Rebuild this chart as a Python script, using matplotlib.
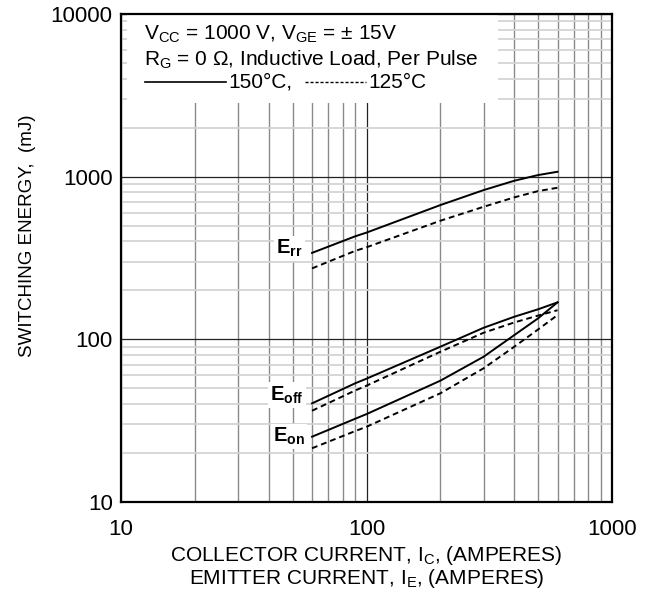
import matplotlib
matplotlib.use("Agg")
import matplotlib.pyplot as plt
from matplotlib.patches import Rectangle
from matplotlib.ticker import FixedLocator, LogLocator, NullFormatter

plt.rcParams["font.family"] = ["Liberation Sans", "DejaVu Sans"]
plt.rcParams["mathtext.fontset"] = "custom"
plt.rcParams["mathtext.rm"] = "Liberation Sans"
plt.rcParams["mathtext.it"] = "Liberation Sans"
plt.rcParams["mathtext.bf"] = "Liberation Sans:bold"

# collector current (A)
current = [60, 90, 100, 200, 300, 400, 500, 600]

# switching energy (mJ), 150 °C solid / 125 °C dashed
err_150 = [340, 430, 453, 669, 827, 944, 1023, 1072]
err_125 = [273, 350, 368, 536, 653, 746, 815, 855]
eoff_150 = [40.4, 53.7, 57.3, 90.1, 117.8, 137.7, 153, 168.8]
eoff_125 = [36.4, 48.5, 51.9, 83.9, 109.8, 127.0, 140, 151]
eon_150 = [25.2, 32.5, 34.7, 55.7, 78.2, 106.2, 134.6, 168.8]
eon_125 = [21.4, 27.3, 29.0, 46.6, 66.4, 90.1, 115, 141]

x_ticks = [10, 100, 1000]
y_ticks = [10, 100, 1000, 10000]

fig = plt.figure(figsize=(6.45, 5.97), dpi=100)
ax = fig.add_axes([121 / 645, 1 - 502 / 597, 491 / 645, 488 / 597])
ax.set_xscale("log")
ax.set_yscale("log")
ax.set_xlim(10, 1000)
ax.set_ylim(10, 10000)

ax.xaxis.set_major_locator(FixedLocator(x_ticks))
ax.yaxis.set_major_locator(FixedLocator(y_ticks))
ax.xaxis.set_minor_locator(LogLocator(base=10, subs=range(2, 10)))
ax.yaxis.set_minor_locator(LogLocator(base=10, subs=range(2, 10)))
ax.xaxis.set_minor_formatter(NullFormatter())
ax.yaxis.set_minor_formatter(NullFormatter())
ax.set_xticklabels([str(v) for v in x_ticks])
ax.set_yticklabels([str(v) for v in y_ticks])
ax.tick_params(which="both", length=0, labelsize=16)
ax.tick_params(axis="x", pad=12)
ax.tick_params(axis="y", pad=6)

ax.grid(True, axis="x", which="minor", color="#8a8a8a", lw=1.0)
ax.grid(True, axis="y", which="minor", color="#d4d4d4", lw=1.3)
ax.grid(True, which="major", color="#222222", lw=0.9)
ax.set_axisbelow(True)
for s in ax.spines.values():
    s.set_linewidth(1.6)

curves = [(err_150, "-"), (err_125, "--"),
          (eoff_150, "-"), (eoff_125, "--"),
          (eon_150, "-"), (eon_125, "--")]
for vals, ls in curves:
    line, = ax.plot(current, vals, color="black", lw=1.4, ls=ls, zorder=3)
    if ls == "--":
        line.set_dashes((3.0, 2.0))

# white panel behind the condition text
ax.add_patch(Rectangle((0.012, 0.818), 0.756, 0.182, transform=ax.transAxes,
                       facecolor="white", edgecolor="none", zorder=2))
tkw = dict(transform=ax.transAxes, fontsize=15, va="center", ha="left", zorder=4)
ax.text(0.047, (502 - 34) / 488, r"V$_{\mathrm{CC}}$ = 1000 V, V$_{\mathrm{GE}}$ = ± 15V", **tkw)
ax.text(0.047, (502 - 60) / 488, r"R$_{\mathrm{G}}$ = 0 Ω, Inductive Load, Per Pulse", **tkw)
ly = (502 - 82) / 488
ax.plot([(145 - 121) / 491, (226 - 121) / 491], [ly, ly], transform=ax.transAxes,
        color="black", lw=1.2, zorder=4)
ax.text((228 - 121) / 491, ly, "150°C,", **tkw)
dl, = ax.plot([(305 - 121) / 491, (366 - 121) / 491], [ly, ly], transform=ax.transAxes,
              color="black", lw=1.0, zorder=4)
dl.set_dashes((2.2, 1.4))
ax.text((368 - 121) / 491, ly, "125°C", **tkw)

lkw = dict(fontsize=14.5, ha="center", va="center", zorder=4,
           bbox=dict(facecolor="white", edgecolor="none", pad=1.5))
ax.text(48.5, 362, r"$\mathbf{E_{rr}}$", **lkw)
ax.text(47.5, 45.5, r"$\mathbf{E_{off}}$", **lkw)
ax.text(48.5, 25.2, r"$\mathbf{E_{on}}$", **lkw)

ax.set_ylabel("SWITCHING ENERGY,  (mJ)", fontsize=13.5)
ax.yaxis.set_label_coords(-(121 - 36) / 491, (502 - 236) / 488)
ax.set_xlabel("COLLECTOR CURRENT, I$_{\\mathrm{C}}$, (AMPERES)\n"
              "EMITTER CURRENT, I$_{\\mathrm{E}}$, (AMPERES)",
              fontsize=15, labelpad=3, linespacing=1.0)

fig.savefig("out.png", dpi=100)
